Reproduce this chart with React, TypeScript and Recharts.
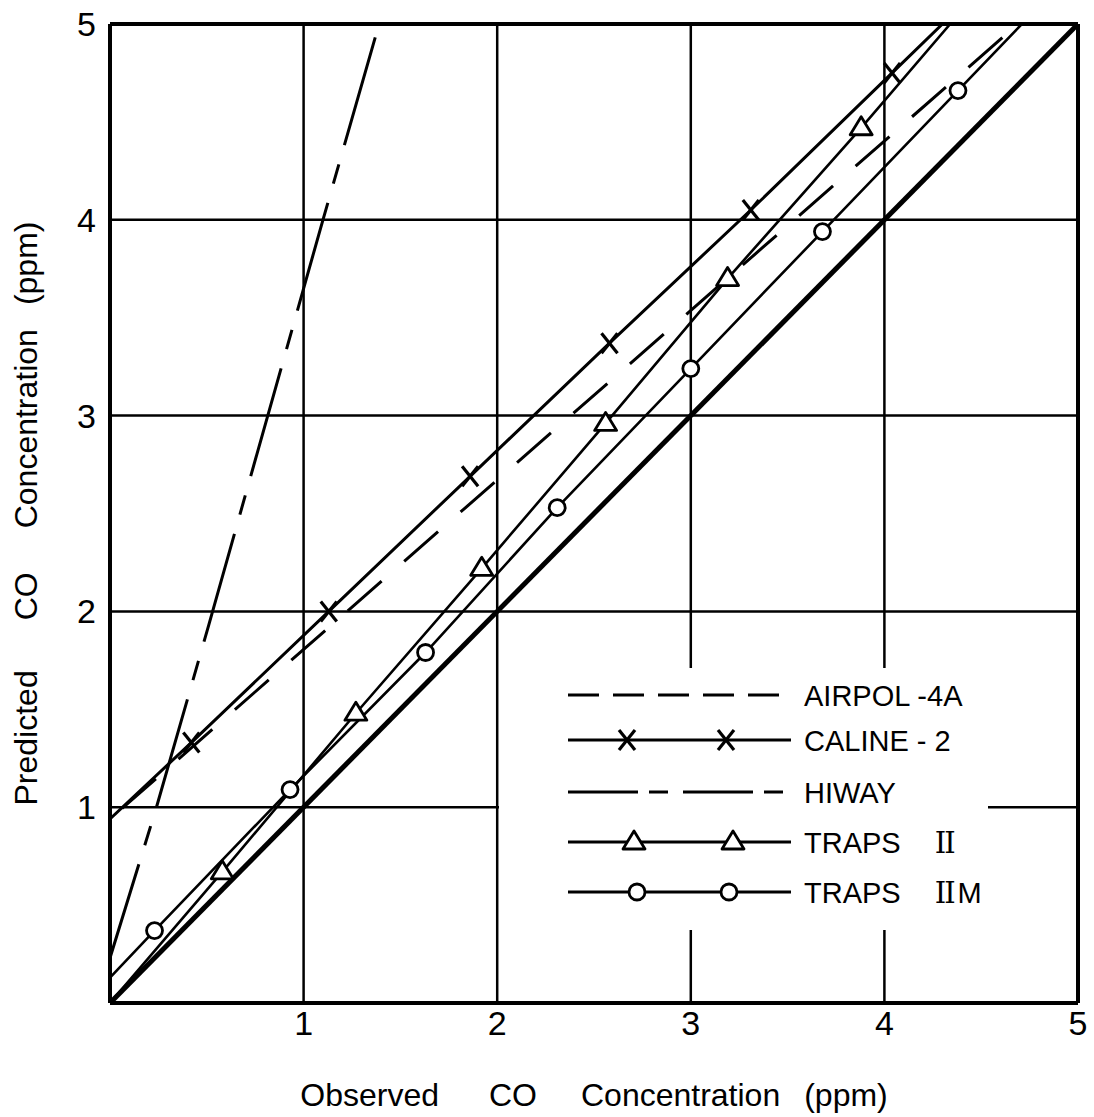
import { LineChart, Line, XAxis, YAxis, CartesianGrid, ReferenceLine, Legend, Label } from "recharts"

const FONT = '"Liberation Sans", Arial, sans-serif'
const NUMERAL_FONT = '"DejaVu Serif", "Liberation Serif", serif'

const AXIS_TICKS = [1, 2, 3, 4, 5]
const X_TITLE = ["Observed", "CO", "Concentration", "(ppm)"]
const Y_TITLE = ["Predicted", "CO", "Concentration", "(ppm)"]

// observed (x) vs predicted (y) CO, ppm; first/last points sit on the frame
const PERFECT_X = [0, 5]
const PERFECT_Y = [0, 5]
const AIRPOL_X = [0, 4.69]
const AIRPOL_Y = [0.94, 5]
const CALINE_X = [0, 0.42, 1.13, 1.86, 2.58, 3.31, 4.04, 4.3]
const CALINE_Y = [0.94, 1.33, 2.0, 2.69, 3.37, 4.05, 4.75, 5]
const HIWAY_X = [0, 0.24, 0.51, 1.1, 1.39]
const HIWAY_Y = [0.23, 1.0, 1.93, 4.0, 5]
const TRAPS2_X = [0, 0.58, 1.27, 1.92, 2.56, 3.19, 3.88, 4.34]
const TRAPS2_Y = [0, 0.67, 1.48, 2.22, 2.96, 3.7, 4.47, 5]
const TRAPS2M_X = [0, 0.23, 0.93, 1.63, 2.31, 3.0, 3.68, 4.38, 4.71]
const TRAPS2M_Y = [0.13, 0.37, 1.09, 1.79, 2.53, 3.24, 3.94, 4.66, 5]

const toPoints = (xs: number[], ys: number[]) => xs.map((x, i) => ({ x, y: ys[i] }))

type MarkerKind = "cross" | "triangle" | "circle" | null

const Marker = ({ kind, cx, cy }: { kind: MarkerKind; cx: number; cy: number }) => {
  if (kind === "cross") {
    return (
      <g stroke="#000" strokeWidth={3.2}>
        <line x1={cx - 8} y1={cy - 10} x2={cx + 8} y2={cy + 10} />
        <line x1={cx - 8} y1={cy + 10} x2={cx + 8} y2={cy - 10} />
      </g>
    )
  }
  if (kind === "triangle") {
    return (
      <polygon
        points={`${cx},${cy - 11} ${cx - 11},${cy + 7} ${cx + 11},${cy + 7}`}
        fill="#fff"
        stroke="#000"
        strokeWidth={2.8}
        strokeLinejoin="round"
      />
    )
  }
  if (kind === "circle") {
    return <circle cx={cx} cy={cy} r={8} fill="#fff" stroke="#000" strokeWidth={2.8} />
  }
  return null
}

// markers only on plotted points, not on the frame end points
const dotFor = (kind: MarkerKind, count: number) => (props: any) => {
  const { cx, cy, index } = props
  if (!kind || index === 0 || index === count - 1) return <g key={`d-${index}`} />
  return (
    <g key={`d-${index}`}>
      <Marker kind={kind} cx={cx} cy={cy} />
    </g>
  )
}

const MODELS = [
  { id: "airpol", label: "AIRPOL -4A", data: toPoints(AIRPOL_X, AIRPOL_Y), width: 3, dash: "45 30", dashOffset: 59, keyDash: "31 14", marker: null as MarkerKind },
  { id: "caline", label: "CALINE - 2", data: toPoints(CALINE_X, CALINE_Y), width: 3, dash: undefined, dashOffset: 0, keyDash: undefined, marker: "cross" as MarkerKind },
  { id: "hiway", label: "HIWAY", data: toPoints(HIWAY_X, HIWAY_Y), width: 3, dash: "112 20 20 20", dashOffset: 14, keyDash: "70 11 19 15", marker: null as MarkerKind },
  { id: "traps2", label: "TRAPS", data: toPoints(TRAPS2_X, TRAPS2_Y), width: 2.6, dash: undefined, dashOffset: 0, keyDash: undefined, marker: "triangle" as MarkerKind },
  { id: "traps2m", label: "TRAPS", data: toPoints(TRAPS2M_X, TRAPS2M_Y), width: 2.6, dash: undefined, dashOffset: 0, keyDash: undefined, marker: "circle" as MarkerKind },
]

const KEY_ROWS = [27, 72, 124, 174, 224]
const KEY_MARKS: Record<string, number[]> = {
  caline: [128, 227],
  traps2: [135, 234],
  traps2m: [138, 230],
}

// roman numeral with slab serifs so the bars run together
const Numeral = () => (
  <tspan dx={34} fontFamily={NUMERAL_FONT} letterSpacing={-2}>
    II
  </tspan>
)

const ModelKey = () => (
  <svg width={490} height={262} style={{ display: "block" }}>
    {MODELS.map((m, i) => {
      const y = KEY_ROWS[i]
      return (
        <g key={m.id}>
          <line x1={69} x2={292} y1={y} y2={y} stroke="#000" strokeWidth={3} strokeDasharray={m.keyDash} />
          {(KEY_MARKS[m.id] || []).map((mx) => (
            <Marker key={mx} kind={m.marker} cx={mx} cy={y} />
          ))}
          <text x={305} y={y + 10.5} fontFamily={FONT} fontSize={29} fill="#000">
            {m.label}
            {m.id === "traps2" && <Numeral />}
            {m.id === "traps2m" && (
              <>
                <Numeral />
                <tspan dx={4}>M</tspan>
              </>
            )}
          </text>
        </g>
      )
    })}
  </svg>
)

const TITLE_GAPS = [0, 50, 44, 24]

const XTick = ({ x, y, payload }: any) => (
  <text x={x} y={y + 32} textAnchor="middle" fontFamily={FONT} fontSize={34} fill="#000">
    {payload.value}
  </text>
)

const YTick = ({ x, y, payload }: any) => (
  <text x={x - 14} y={y + 12} textAnchor="end" fontFamily={FONT} fontSize={34} fill="#000">
    {payload.value}
  </text>
)

const XTitle = ({ viewBox }: any) => (
  <text
    x={viewBox.x + viewBox.width / 2}
    y={viewBox.y + 103}
    textAnchor="middle"
    fontFamily={FONT}
    fontSize={32}
    fill="#000"
  >
    {X_TITLE.map((w, i) => (
      <tspan key={w} dx={TITLE_GAPS[i]}>{w}</tspan>
    ))}
  </text>
)

const YTitle = ({ viewBox }: any) => {
  const cx = 37
  const cy = viewBox.y + viewBox.height / 2
  return (
    <text
      x={cx}
      y={cy}
      transform={`rotate(-90, ${cx}, ${cy})`}
      textAnchor="middle"
      fontFamily={FONT}
      fontSize={32}
      fill="#000"
    >
      {Y_TITLE.map((w, i) => (
        <tspan key={w} dx={TITLE_GAPS[i]}>{w}</tspan>
      ))}
    </text>
  )
}

export default function App() {
  return (
    <div style={{ width: 1094, height: 1117, background: "#fff" }}>
      <style>{"body{margin:0}"}</style>
      <LineChart width={1094} height={1117} margin={{ top: 24, right: 16, bottom: 74, left: 50 }}>
        <CartesianGrid stroke="#000" strokeWidth={2.5} />
        <XAxis
          type="number"
          dataKey="x"
          domain={[0, 5]}
          ticks={AXIS_TICKS}
          allowDataOverflow
          height={40}
          axisLine={false}
          tickLine={false}
          tickSize={0}
          tickMargin={0}
          tick={<XTick />}
        >
          <Label content={<XTitle />} />
        </XAxis>
        <YAxis
          type="number"
          dataKey="y"
          domain={[0, 5]}
          ticks={AXIS_TICKS}
          allowDataOverflow
          width={60}
          axisLine={false}
          tickLine={false}
          tickSize={0}
          tickMargin={0}
          tick={<YTick />}
        >
          <Label content={<YTitle />} />
        </YAxis>
        <Line
          data={toPoints(PERFECT_X, PERFECT_Y)}
          dataKey="y"
          stroke="#000"
          strokeWidth={5}
          dot={false}
          activeDot={false}
          isAnimationActive={false}
        />
        {MODELS.map((m) => (
          <Line
            key={m.id}
            data={m.data}
            dataKey="y"
            name={m.label}
            stroke="#000"
            strokeWidth={m.width}
            strokeDasharray={m.dash}
            strokeDashoffset={m.dashOffset}
            dot={dotFor(m.marker, m.data.length)}
            activeDot={false}
            isAnimationActive={false}
          />
        ))}
        <ReferenceLine x={0} stroke="#000" strokeWidth={4} />
        <ReferenceLine x={5} stroke="#000" strokeWidth={4} />
        <ReferenceLine y={0} stroke="#000" strokeWidth={4} />
        <ReferenceLine y={5} stroke="#000" strokeWidth={4} />
        <Legend
          layout="horizontal"
          verticalAlign="middle"
          align="center"
          content={() => <ModelKey />}
          wrapperStyle={{ left: 499, top: 668, width: 489, height: 262, background: "#fff" }}
        />
      </LineChart>
    </div>
  )
}
